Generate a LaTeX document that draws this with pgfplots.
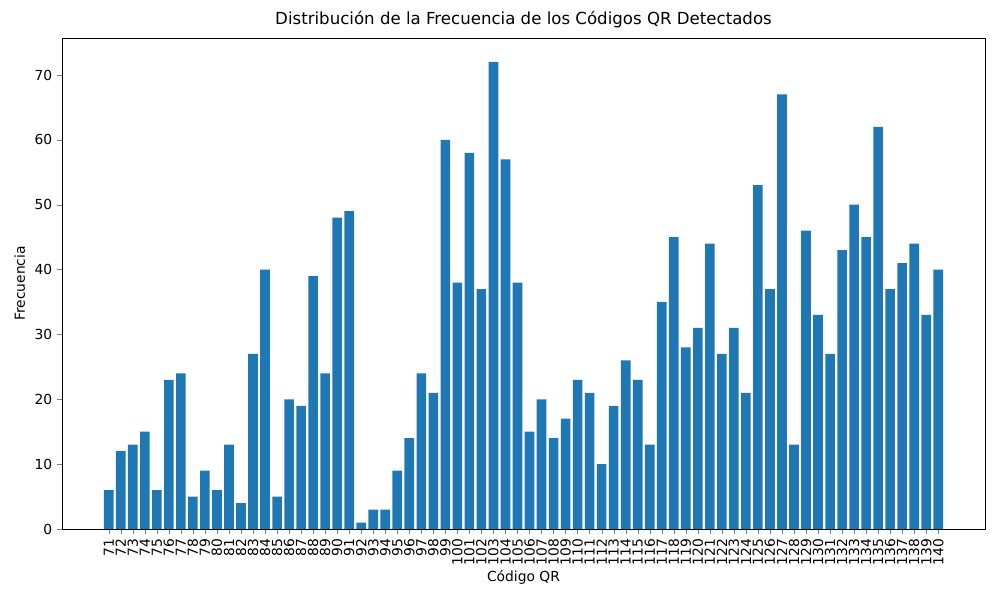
\documentclass[border=0pt]{standalone}
\usepackage{pgfplots}
\pgfplotsset{compat=1.18}
\usepackage{fontspec}
\setmainfont{DejaVu Sans}
\definecolor{mplblue}{HTML}{1F77B4}
\begin{document}
\begin{tikzpicture}
\useasboundingbox (0,0) rectangle (10in,6in);
\begin{axis}[
  at={(0.62in,0.71in)}, anchor=south west,
  scale only axis, width=9.23in, height=4.91in,
  xmin=67.11, xmax=143.89, ymin=0, ymax=75.7,
  xtick={71,...,140},
  xticklabel style={rotate=90, anchor=east, font=\fontsize{10}{12}\selectfont},
  yticklabel style={font=\fontsize{10}{12}\selectfont},
  ytick={0,10,...,70},
  /pgf/number format/assume math mode=true,
  tick align=outside, tick pos=left,
  major tick length=3.5pt,
  xlabel={Código QR}, ylabel={Frecuencia},
  label style={font=\fontsize{10}{12}\selectfont},
  xlabel style={yshift=3pt},
  title={Distribución de la Frecuencia de los Códigos QR Detectados},
  title style={font=\fontsize{12}{14}\selectfont, yshift=-2pt},
  ybar, bar width=0.8, bar shift=0pt,
]
\addplot[fill=mplblue, draw=none] coordinates {
(71,6)(72,12)(73,13)(74,15)(75,6)(76,23)(77,24)(78,5)(79,9)(80,6)
(81,13)(82,4)(83,27)(84,40)(85,5)(86,20)(87,19)(88,39)(89,24)(90,48)
(91,49)(92,1)(93,3)(94,3)(95,9)(96,14)(97,24)(98,21)(99,60)(100,38)
(101,58)(102,37)(103,72)(104,57)(105,38)(106,15)(107,20)(108,14)(109,17)(110,23)
(111,21)(112,10)(113,19)(114,26)(115,23)(116,13)(117,35)(118,45)(119,28)(120,31)
(121,44)(122,27)(123,31)(124,21)(125,53)(126,37)(127,67)(128,13)(129,46)(130,33)
(131,27)(132,43)(133,50)(134,45)(135,62)(136,37)(137,41)(138,44)(139,33)(140,40)
};
\end{axis}
\end{tikzpicture}
\end{document}
